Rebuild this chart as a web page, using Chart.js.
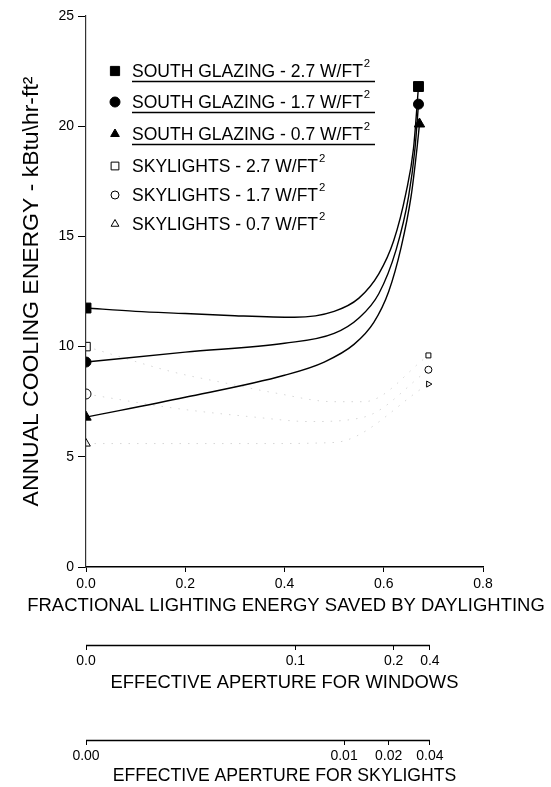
<!DOCTYPE html>
<html><head><meta charset="utf-8">
<script src="https://cdn.jsdelivr.net/npm/chart.js@4.4.1/dist/chart.umd.min.js"></script>
<style>html,body{margin:0;padding:0;background:#fff;} canvas{display:block;}</style>
</head><body>
<canvas id="c" width="551" height="787"></canvas>
<script>
const FONT = '"Liberation Sans", Arial, Helvetica, sans-serif';

// ---- data ----
const seriesLabels = [
  'SOUTH GLAZING - 2.7 W/FT²',
  'SOUTH GLAZING - 1.7 W/FT²',
  'SOUTH GLAZING - 0.7 W/FT²',
  'SKYLIGHTS - 2.7 W/FT²',
  'SKYLIGHTS - 1.7 W/FT²',
  'SKYLIGHTS - 0.7 W/FT²'
];
const glaze27X = [0, 0.1, 0.2, 0.3, 0.42, 0.5, 0.55, 0.59, 0.62, 0.645, 0.66, 0.67];
const glaze27Y = [11.75, 11.6, 11.5, 11.4, 11.33, 11.6, 12.2, 13.3, 14.8, 17.0, 19.0, 21.8];
const glaze17X = [0, 0.2, 0.4, 0.5, 0.55, 0.59, 0.625, 0.65, 0.663, 0.67];
const glaze17Y = [9.3, 9.75, 10.15, 10.6, 11.3, 12.4, 14.4, 16.8, 19.0, 21.0];
const glaze07X = [0, 0.2, 0.4, 0.48, 0.54, 0.58, 0.61, 0.635, 0.655, 0.667, 0.672];
const glaze07Y = [6.8, 7.7, 8.7, 9.3, 10.1, 11.1, 12.5, 14.5, 16.8, 19.0, 20.1];
const sky27X = [0, 0.175, 0.28, 0.38, 0.5, 0.56, 0.69];
const sky27Y = [10.0, 8.85, 8.35, 7.9, 7.5, 7.5, 9.6];
const sky17X = [0, 0.18, 0.34, 0.45, 0.56, 0.69];
const sky17Y = [7.85, 7.2, 6.8, 6.6, 6.8, 8.95];
const sky07X = [0, 0.17, 0.35, 0.5, 0.69];
const sky07Y = [5.6, 5.6, 5.6, 5.65, 8.3];

const yTitle = 'ANNUAL COOLING ENERGY - kBtu\\hr-ft²';
const xTitle = 'FRACTIONAL LIGHTING ENERGY SAVED BY DAYLIGHTING';
const winTitle = 'EFFECTIVE APERTURE FOR WINDOWS';
const skyTitle = 'EFFECTIVE APERTURE FOR SKYLIGHTS';
const windowApertureLabels = ['0.0', '0.1', '0.2', '0.4'];
const windowAperturePos = [0, 0.422, 0.62, 0.693];
const skylightApertureLabels = ['0.00', '0.01', '0.02', '0.04'];
const skylightAperturePos = [0, 0.52, 0.61, 0.693];

// ---- helpers ----
function fitFont(text, width) {
  const ctx = document.createElement('canvas').getContext('2d');
  ctx.font = `normal 100px ${FONT}`;
  return 100 * width / ctx.measureText(text).width;
}
function pts(xs, ys) { return xs.map((x, i) => ({x: x, y: ys[i]})); }

const yTitleSize = fitFont(yTitle, 430);
const xTitleSize = fitFont(xTitle, 518);
const winTitleSize = fitFont(winTitle, 348);
const skyTitleSize = fitFont(skyTitle, 344);
const legendSize = fitFont('SOUTH GLAZING - 2.7 W/FT', 231);

const styles = ['rect', 'circle', 'triangle', 'rect', 'circle', 'triangle'];

function glazeDS(i, xs, ys) {
  const n = xs.length;
  return {
    label: seriesLabels[i], data: pts(xs, ys),
    borderColor: '#000', borderWidth: 1.4, backgroundColor: '#000',
    pointStyle: styles[i], cubicInterpolationMode: 'monotone',
    pointRadius: ctx => (ctx.dataIndex === 0 || ctx.dataIndex === n - 1) ? [7, 5, 6][i] : 0,
    pointBorderColor: '#000', pointBackgroundColor: '#000', pointBorderWidth: 1
  };
}
function skyDS(i, xs, ys) {
  const n = xs.length;
  return {
    label: seriesLabels[i], data: pts(xs, ys),
    borderColor: '#d6d6d6', borderWidth: 1, borderDash: [1.5, 7],
    pointStyle: styles[i], cubicInterpolationMode: 'monotone',
    pointRadius: ctx => ctx.dataIndex === 0 ? [6, 5, 5][i - 3] : (ctx.dataIndex === n - 1 ? 3.5 : 0),
    pointRotation: ctx => ctx.dataIndex === n - 1 ? 90 : 0,
    pointBorderColor: '#000', pointBackgroundColor: 'rgba(0,0,0,0)', pointBorderWidth: 1
  };
}

const legendPlugin = {
  id: 'customLegend',
  afterDraw(chart) {
    const ctx = chart.ctx;
    const rows = [71, 102, 134, 166, 195, 224];
    ctx.save();
    chart.data.datasets.forEach((ds, i) => {
      const y = rows[i];
      const hollow = i >= 3;
      ctx.fillStyle = hollow ? 'rgba(0,0,0,0)' : '#000';
      ctx.strokeStyle = '#000';
      ctx.lineWidth = 1;
      Chart.helpers.drawPoint(ctx, {
        pointStyle: styles[i], radius: hollow ? [5.5, 4, 4.5][i - 3] : [6.5, 5, 5][i],
        rotation: 0, borderWidth: 1
      }, 115, y);
      ctx.fillStyle = '#000';
      const main = ds.label.replace('²', '');
      ctx.font = `normal ${legendSize}px ${FONT}`;
      ctx.textBaseline = 'middle';
      ctx.textAlign = 'left';
      ctx.fillText(main, 132, y + 1);
      const w = ctx.measureText(main).width;
      ctx.font = `normal ${legendSize * 0.65}px ${FONT}`;
      ctx.fillText('2', 132 + w + 1, y - legendSize * 0.38);
      if (!hollow) {
        ctx.beginPath();
        ctx.lineWidth = 1.5;
        ctx.moveTo(132, y + 10.5);
        ctx.lineTo(375, y + 10.5);
        ctx.stroke();
      }
    });
    // main x-axis title (wider than the plot area in the original)
    const xs = chart.scales.x;
    ctx.font = `normal ${xTitleSize}px ${FONT}`;
    ctx.textAlign = 'center';
    ctx.textBaseline = 'middle';
    ctx.fillStyle = '#000';
    ctx.fillText(xTitle, 286, xs.top + 39);
    // partial lines of the aperture axes
    ctx.strokeStyle = '#000';
    ctx.lineWidth = 1.3;
    [['xWin', windowAperturePos], ['xSky', skylightAperturePos]].forEach(([id, pos]) => {
      const s = chart.scales[id];
      ctx.beginPath();
      ctx.moveTo(s.getPixelForValue(pos[0]), s.top + 0.5);
      ctx.lineTo(s.getPixelForValue(pos[pos.length - 1]), s.top + 0.5);
      ctx.stroke();
    });
    ctx.restore();
  }
};

function apertureScale(pos, labels, title, size, weight, height, padBottom) {
  return {
    type: 'linear', position: 'bottom', min: 0, max: 0.8, weight: weight,
    afterBuildTicks: s => { s.ticks = pos.map(v => ({value: v})); },
    afterFit: s => { s.height = height; },
    ticks: {
      autoSkip: false, maxRotation: 0, color: '#000', padding: 3,
      font: {family: FONT, size: 14},
      callback: (v, i) => labels[i]
    },
    grid: {display: true, drawOnChartArea: false, drawTicks: true, tickLength: 5, color: '#000', lineWidth: 1},
    border: {display: false},
    title: {display: true, text: title, color: '#000', font: {family: FONT, size: size}, padding: {top: 0, bottom: padBottom}}
  };
}

new Chart(document.getElementById('c'), {
  type: 'line',
  data: {
    datasets: [
      glazeDS(0, glaze27X, glaze27Y),
      glazeDS(1, glaze17X, glaze17Y),
      glazeDS(2, glaze07X, glaze07Y),
      skyDS(3, sky27X, sky27Y),
      skyDS(4, sky17X, sky17Y),
      skyDS(5, sky07X, sky07Y)
    ]
  },
  options: {
    responsive: false, animation: false,
    layout: {padding: {left: 0, right: 68, top: 16, bottom: 0}},
    plugins: {legend: {display: false}, tooltip: {enabled: false}},
    scales: {
      x: {
        type: 'linear', position: 'bottom', min: 0, max: 0.8, weight: 1,
        afterFit: s => { s.height = 78; },
        ticks: {stepSize: 0.2, color: '#000', padding: 4, maxRotation: 0,
          font: {family: FONT, size: 14}, callback: v => Number(v).toFixed(1)},
        grid: {display: true, drawOnChartArea: false, drawTicks: true, tickLength: 5, color: '#000'},
        border: {display: true, color: '#000', width: 1.5},
        title: {display: false}
      },
      xWin: apertureScale(windowAperturePos, windowApertureLabels, winTitle, winTitleSize, 2, 95, 740 - 683 - winTitleSize * 0.6),
      xSky: apertureScale(skylightAperturePos, skylightApertureLabels, skyTitle, skyTitleSize, 3, 47, Math.max(0, 787 - 777 - skyTitleSize * 0.6)),
      y: {
        type: 'linear', min: 0, max: 25,
        afterFit: s => { s.width = 86; },
        ticks: {stepSize: 5, color: '#000', padding: 4, font: {family: FONT, size: 14}},
        grid: {display: true, drawOnChartArea: false, drawTicks: true, tickLength: 8, color: '#000'},
        border: {display: true, color: '#333', width: 1.2, dash: [5, 2]},
        title: {display: true, text: yTitle, color: '#000', font: {family: FONT, size: yTitleSize},
          padding: {top: 32 - yTitleSize * 0.6, bottom: 0}}
      }
    }
  },
  plugins: [legendPlugin]
});
</script>
</body></html>
